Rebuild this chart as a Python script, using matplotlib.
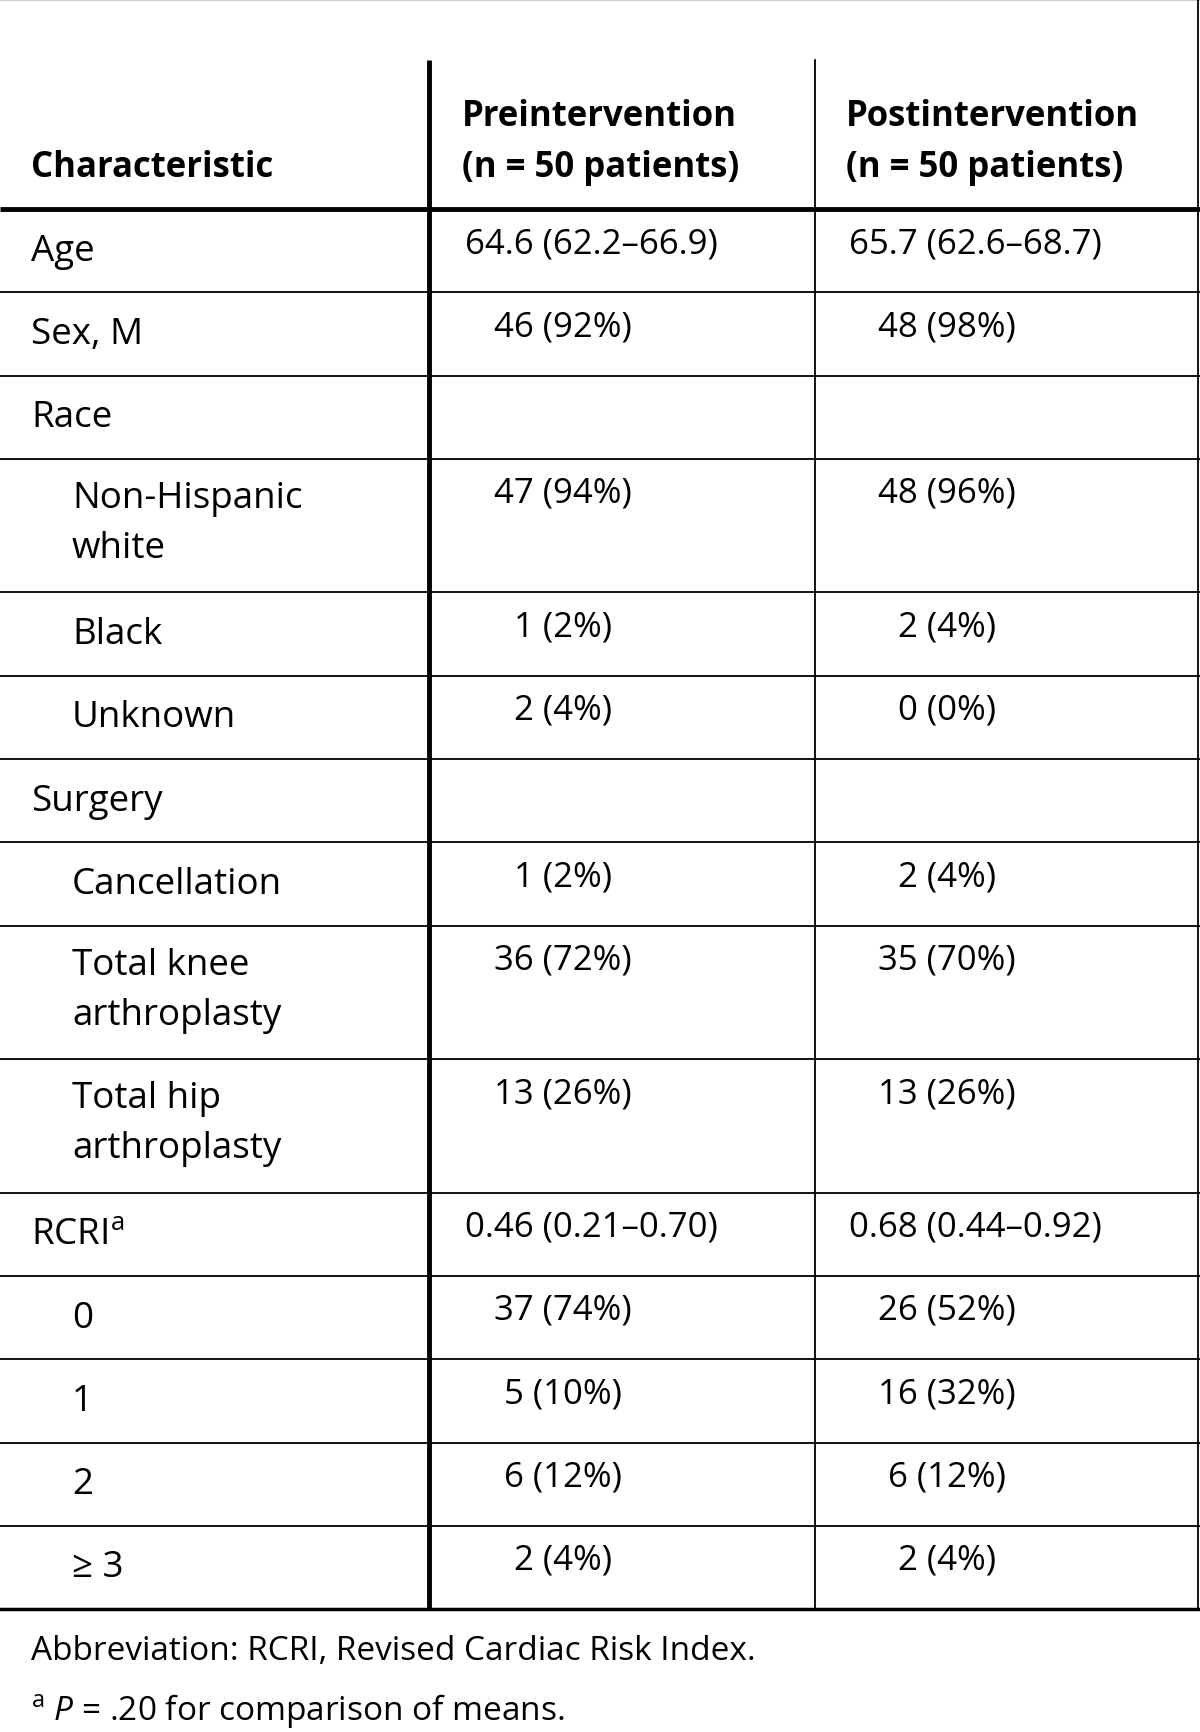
import matplotlib.pyplot as plt

# table content
header = ["Characteristic", "Preintervention\n(n = 50 patients)", "Postintervention\n(n = 50 patients)"]
labels = ["Age", "Sex, M", "Race", "Non-Hispanic\nwhite", "Black", "Unknown", "Surgery",
          "Cancellation", "Total knee\narthroplasty", "Total hip\narthroplasty", "RCRI$^{\\mathrm{a}}$",
          "0", "1", "2", "≥ 3"]
indent = [0, 0, 0, 1, 1, 1, 0, 1, 1, 1, 0, 1, 1, 1, 1]
pre = ["64.6 (62.2–66.9)", "46 (92%)", "", "47 (94%)", "1 (2%)", "2 (4%)", "",
       "1 (2%)", "36 (72%)", "13 (26%)", "0.46 (0.21–0.70)", "37 (74%)", "5 (10%)",
       "6 (12%)", "2 (4%)"]
post = ["65.7 (62.6–68.7)", "48 (98%)", "", "48 (96%)", "2 (4%)", "0 (0%)", "",
        "2 (4%)", "35 (70%)", "13 (26%)", "0.68 (0.44–0.92)", "26 (52%)", "16 (32%)",
        "6 (12%)", "2 (4%)"]
notes = ["Abbreviation: RCRI, Revised Cardiac Risk Index.",
         "$^{\\mathrm{a}}$ $P$ = .20 for comparison of means."]

plt.rcParams['font.family'] = ['Open Sans', 'DejaVu Sans']
plt.rcParams['mathtext.fontset'] = 'custom'
plt.rcParams['mathtext.rm'] = 'Open Sans'
plt.rcParams['mathtext.it'] = 'Open Sans:italic'

W, H = 1200, 1733
fig = plt.figure(figsize=(W / 100, H / 100), dpi=100)
ax = fig.add_axes([0, 0, 1, 1])
ax.set_xlim(0, W)
ax.set_ylim(H, 0)
ax.axis("off")

x_v1, x_v2, x_right = 429, 815, 1198
y_top, y_head = 61, 210
fs_lab = 26.5
fs_val = 25
fs_head = 25
fs_note = 24

# header
ax.text(31, 168, header[0], fontsize=fs_head, fontweight="bold", va="center")
for x0, h in [(462, header[1]), (846, header[2])]:
    l1, l2 = h.split("\n")
    ax.text(x0, 117, l1, fontsize=fs_head, fontweight="bold", va="center")
    ax.text(x0, 168, l2, fontsize=fs_head, fontweight="bold", va="center")

# rows
y = y_head
bounds = []
for lab, ind, a, b in zip(labels, indent, pre, post):
    n = lab.count("\n") + 1
    h = 83.3 if n == 1 else 133.5
    xl = 31 + 41 * ind
    if n == 1:
        ax.text(xl, y + h / 2, lab, fontsize=fs_lab, va="center")
    else:
        for k, part in enumerate(lab.split("\n")):
            ax.text(xl, y + 39 + 50 * k, part, fontsize=fs_lab, va="center")
    for xc, v in [(563, a), (947, b)]:
        if v:
            off = 28 if "–" in v else 0
            ax.text(xc + off, y + 34, v, fontsize=fs_val, va="center", ha="center")
    y += h
    bounds.append(y)

# lines
ax.plot([0, W], [1, 1], color="#cccccc", lw=1.5)
ax.plot([0, W], [y_head, y_head], color="black", lw=3.5, solid_capstyle="butt")
for yb in bounds[:-1]:
    ax.plot([0, W], [yb, yb], color="black", lw=1.3)
ax.plot([0, W], [bounds[-1], bounds[-1]], color="black", lw=2.5)
ax.plot([x_v1, x_v1], [y_top, bounds[-1]], color="black", lw=3.5, solid_capstyle="butt")
ax.plot([x_v2, x_v2], [y_top, bounds[-1]], color="black", lw=1.3)
ax.plot([x_right, x_right], [0, bounds[-1]], color="black", lw=1.3)

# footnotes
ax.text(31, 1652, notes[0], fontsize=fs_note, va="center")
ax.text(31, 1711, notes[1], fontsize=fs_note, va="center")

fig.savefig("out.png", dpi=100)
